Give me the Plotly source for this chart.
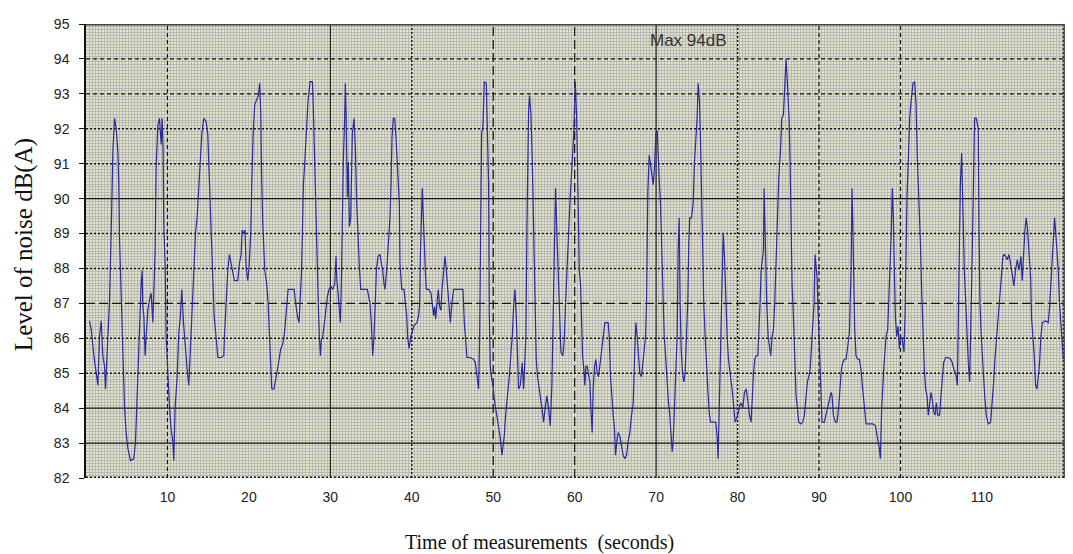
import plotly.graph_objects as go

# ---------------- data: (time in s, level in dB(A)) ----------------
SEG_00_20 = [(0.43,86.5),(0.64,86.25),(0.97,85.5),(1.25,85.0),(1.46,84.65),(1.66,86.05),(1.87,86.5),(2.07,85.5),(2.27,85.2),(2.40,84.55),(2.60,85.5),(2.76,86.1),(2.89,87.1),(3.09,89.0),(3.30,91.35),(3.50,92.3),(3.71,92.0),(3.91,91.35),(4.03,90.4),(4.11,88.9),(4.32,87.2),(4.52,85.7),(4.73,84.05),(4.93,83.3),(5.14,82.85),(5.46,82.5),(5.87,82.55),(6.08,83.05),(6.24,84.15),(6.45,85.2),(6.57,86.35),(6.77,87.55),(6.90,87.95),(6.98,86.9),(7.10,86.65),(7.26,85.5),(7.39,86.05),(7.59,86.8),(7.80,87.1),(8.00,87.3),(8.20,86.45),(8.33,87.2),(8.49,88.5),(8.61,90.9),(8.82,92.1),(9.02,92.3),(9.23,91.55),(9.35,92.3),(9.47,91.35),(9.55,89.3),(9.72,88.05),(9.84,86.05),(9.96,85.5),(10.05,84.75),(10.25,84.05),(10.45,83.4),(10.66,83.05),(10.78,82.5),(10.94,84.0),(11.19,84.9),(11.39,86.15),(11.60,86.65),(11.76,87.4),(11.97,86.45),(12.17,85.7),(12.42,85.1),(12.62,84.65),(12.83,85.7),(13.03,86.65),(13.23,87.95),(13.44,89.0),(13.64,89.45),(13.85,90.4),(14.05,91.1),(14.22,91.85),(14.46,92.3),(14.75,92.2),(14.95,91.85),(15.08,90.9),(15.28,89.95),(15.40,88.7),(15.57,87.65),(15.73,86.65),(15.98,86.0),(16.18,85.45),(16.59,85.45),(16.92,85.5),(17.00,86.05),(17.20,87.0),(17.41,87.95),(17.61,88.4),(17.82,88.15),(18.02,87.95),(18.22,87.65),(18.63,87.65),(18.84,88.15),(19.04,88.4),(19.17,89.1),(19.37,89.0),(19.53,89.1),(19.66,88.05),(19.86,87.65)]

SEG_20_40 = [(20.02,88.05),(20.23,89.0),(20.35,90.4),(20.52,91.85),(20.72,92.7),(20.97,92.85),(21.17,92.95),(21.33,93.3),(21.46,92.4),(21.54,90.9),(21.70,89.3),(21.95,87.95),(22.19,87.55),(22.36,87.0),(22.52,86.05),(22.68,85.0),(22.81,84.55),(23.09,84.55),(23.30,84.9),(23.50,85.1),(23.71,85.4),(23.91,85.7),(24.11,85.8),(24.32,86.05),(24.48,86.45),(24.65,87.0),(24.81,87.4),(25.14,87.4),(25.55,87.4),(25.75,87.0),(25.95,86.65),(26.16,86.45),(26.28,87.0),(26.45,87.85),(26.57,89.0),(26.69,90.4),(26.85,91.0),(27.06,91.85),(27.26,92.8),(27.51,93.35),(27.80,93.35),(27.92,92.5),(28.08,90.9),(28.25,89.0),(28.41,87.95),(28.53,86.9),(28.65,86.05),(28.78,85.5),(28.90,85.95),(29.06,86.05),(29.23,86.35),(29.43,86.8),(29.64,87.2),(29.84,87.4),(30.05,87.5),(30.29,87.4),(30.54,87.55),(30.70,88.35),(30.78,87.75),(30.94,87.3),(31.11,86.9),(31.23,86.45),(31.35,87.55),(31.48,89.85),(31.60,91.15),(31.76,92.3),(31.84,93.3),(31.93,92.5),(32.09,90.05),(32.21,91.05),(32.34,89.2),(32.50,89.45),(32.70,91.85),(32.91,92.3),(33.07,91.45),(33.24,89.85),(33.44,88.5),(33.56,88.05),(33.73,87.4),(34.13,87.4),(34.54,87.4),(34.87,87.0),(35.03,86.45),(35.20,85.5),(35.36,86.05),(35.53,87.1),(35.65,87.95),(35.85,88.35),(36.10,88.4),(36.26,88.15),(36.43,87.95),(36.59,87.55),(36.71,87.4),(36.92,87.95),(37.04,88.35),(37.20,89.1),(37.32,89.45),(37.45,90.4),(37.57,91.75),(37.73,92.3),(37.90,92.3),(38.06,91.75),(38.31,90.8),(38.47,89.85),(38.55,88.15),(38.76,87.4),(39.04,87.4),(39.25,87.0),(39.37,86.65),(39.49,86.05),(39.66,85.7),(39.86,86.05)]

SEG_40_60 = [(40.02,86.15),(40.23,86.35),(40.64,86.45),(40.84,86.65),(40.97,87.0),(41.05,88.35),(41.21,89.3),(41.29,90.3),(41.37,89.75),(41.46,89.0),(41.58,88.5),(41.66,87.95),(41.78,87.4),(42.07,87.4),(42.36,87.3),(42.52,86.9),(42.68,86.65),(42.81,86.9),(42.93,86.55),(43.09,87.0),(43.26,87.4),(43.42,86.9),(43.58,86.8),(43.71,87.4),(43.91,87.95),(44.07,88.35),(44.24,87.95),(44.40,87.4),(44.56,86.9),(44.73,86.45),(44.93,87.0),(45.14,87.4),(45.55,87.4),(45.95,87.4),(46.28,87.4),(46.45,86.45),(46.61,85.85),(46.77,85.45),(47.18,85.45),(47.59,85.4),(47.80,85.3),(48.00,84.9),(48.20,84.55),(48.33,86.05),(48.45,89.0),(48.57,91.85),(48.74,92.1),(48.90,93.35),(49.15,93.3),(49.31,92.0),(49.43,90.4),(49.51,86.8),(49.64,85.2),(49.80,84.85),(49.96,84.65),(50.13,84.25),(50.29,84.0),(50.45,83.7),(50.66,83.4),(50.86,83.15),(51.07,82.65),(51.19,82.85),(51.35,83.2),(51.52,83.8),(51.68,84.15),(51.80,84.55),(52.01,85.0),(52.21,85.7),(52.34,86.05),(52.50,86.9),(52.66,87.4),(52.83,86.65),(52.95,85.7),(53.11,84.55),(53.32,84.65),(53.56,85.3),(53.73,84.55),(53.89,85.7),(54.01,86.05),(54.13,89.0),(54.22,91.35),(54.34,92.5),(54.46,92.95),(54.63,92.4),(54.79,91.15),(54.95,89.0),(55.12,86.65),(55.28,85.4),(55.44,84.9),(55.61,84.55),(55.77,84.35),(55.98,84.0),(56.18,83.6),(56.38,84.0),(56.59,84.35),(56.79,84.0),(57.00,83.5),(57.20,84.65),(57.32,86.05),(57.41,87.1),(57.53,88.9),(57.65,90.3),(57.82,89.0),(57.98,87.85),(58.14,86.65),(58.31,85.6),(58.55,85.5),(58.72,85.95),(58.88,87.0),(59.04,87.95),(59.25,89.1),(59.45,90.05),(59.66,90.9),(59.86,91.75),(60.07,93.35)]

SEG_60_80 = [(60.23,92.4),(60.35,90.9),(60.43,89.3),(60.56,87.95),(60.72,87.55),(60.84,86.45),(60.97,85.5),(61.13,85.1),(61.25,84.65),(61.37,85.2),(61.54,85.2),(61.66,85.0),(61.87,84.75),(61.99,84.0),(62.15,83.3),(62.27,84.55),(62.44,85.2),(62.60,85.4),(62.76,85.0),(62.93,84.9),(63.09,85.2),(63.30,85.7),(63.50,86.05),(63.71,86.45),(64.11,86.45),(64.24,86.05),(64.40,84.9),(64.56,84.25),(64.73,83.8),(64.89,83.4),(65.01,82.65),(65.18,83.05),(65.34,83.3),(65.55,83.2),(65.71,82.95),(65.95,82.65),(66.16,82.55),(66.36,82.65),(66.57,83.05),(66.77,83.3),(66.98,83.8),(67.18,84.15),(67.39,85.7),(67.51,86.45),(67.67,86.05),(67.84,85.6),(68.00,85.0),(68.20,84.9),(68.33,85.2),(68.49,85.7),(68.70,86.05),(68.82,87.0),(68.90,89.0),(68.98,90.2),(69.15,91.25),(69.31,91.0),(69.47,90.8),(69.64,90.4),(69.80,90.9),(69.96,91.85),(70.13,91.95),(70.25,91.15),(70.37,90.6),(70.54,89.85),(70.66,88.7),(70.86,87.55),(70.99,86.05),(71.11,85.7),(71.27,85.1),(71.39,84.45),(71.52,84.15),(71.68,83.8),(71.84,83.2),(71.97,82.75),(72.09,83.05),(72.25,84.0),(72.42,84.75),(72.58,86.05),(72.70,88.5),(72.83,89.45),(72.95,87.0),(73.07,85.7),(73.24,85.0),(73.40,84.75),(73.56,85.0),(73.73,86.05),(73.89,87.1),(74.01,88.7),(74.13,89.45),(74.34,89.45),(74.54,89.85),(74.71,91.05),(74.87,91.55),(75.03,92.3),(75.16,93.3),(75.32,92.8),(75.44,91.75),(75.57,90.2),(75.69,88.5),(75.85,87.0),(76.02,86.05),(76.18,85.1),(76.34,84.55),(76.51,83.9),(76.67,83.6),(77.00,83.6),(77.32,83.6),(77.49,83.2),(77.61,82.55),(77.73,83.8),(77.82,84.9),(77.94,86.05),(78.06,87.95),(78.23,89.0),(78.39,88.35),(78.55,87.1),(78.72,86.05),(78.88,85.4),(79.04,85.0),(79.21,84.75),(79.37,84.45),(79.53,84.0),(79.70,83.6)]

SEG_80_100 = [(80.02,83.8),(80.23,84.05),(80.43,84.15),(80.64,84.0),(80.84,84.45),(81.05,84.55),(81.25,84.25),(81.46,83.8),(81.66,83.6),(81.78,84.45),(81.95,85.0),(82.11,85.4),(82.27,85.5),(82.48,85.5),(82.60,86.05),(82.76,87.0),(82.89,87.95),(83.01,88.15),(83.17,88.5),(83.26,90.3),(83.34,89.45),(83.42,88.15),(83.58,87.0),(83.75,86.05),(83.91,85.7),(84.07,85.5),(84.24,86.05),(84.40,86.25),(84.56,87.0),(84.73,88.35),(84.89,89.45),(85.06,90.6),(85.26,91.35),(85.42,92.3),(85.63,92.4),(85.79,93.25),(85.95,94.0),(86.08,93.45),(86.20,92.95),(86.32,92.3),(86.45,91.05),(86.57,89.3),(86.69,87.55),(86.85,86.65),(87.02,85.7),(87.18,84.35),(87.35,84.0),(87.51,83.6),(87.76,83.55),(88.00,83.6),(88.20,83.8),(88.41,84.35),(88.57,84.75),(88.74,84.9),(88.90,85.1),(89.06,85.7),(89.23,86.45),(89.39,87.0),(89.51,88.4),(89.64,87.95),(89.76,87.75),(89.88,86.8),(90.01,85.85),(90.13,85.0),(90.25,84.0),(90.37,83.6),(90.66,83.6),(90.86,83.8),(91.07,84.0),(91.27,84.15),(91.48,84.45),(91.60,84.35),(91.76,83.8),(92.01,83.6),(92.21,83.6),(92.42,84.05),(92.58,84.75),(92.74,85.1),(92.91,85.3),(93.11,85.4),(93.32,85.4),(93.52,85.7),(93.73,86.15),(93.93,87.95),(94.05,90.3),(94.13,89.45),(94.26,87.95),(94.38,86.25),(94.54,85.5),(94.75,85.4),(94.95,85.4),(95.16,85.1),(95.36,84.55),(95.57,84.0),(95.77,83.55),(96.18,83.55),(96.59,83.55),(96.92,83.5),(97.08,83.2),(97.24,83.05),(97.41,82.85),(97.53,82.55),(97.69,84.0),(97.82,84.9),(97.94,85.1),(98.06,85.5),(98.23,86.05),(98.43,86.25),(98.55,87.0),(98.72,87.95),(98.88,89.1),(99.00,90.3),(99.13,89.45),(99.25,87.95),(99.37,86.65),(99.53,86.05),(99.70,86.35),(99.86,85.7)]

SEG_100_120 = [(100.02,86.05),(100.23,85.95),(100.43,85.6),(100.56,86.65),(100.68,88.9),(100.80,90.05),(100.97,91.15),(101.13,92.3),(101.33,92.85),(101.54,93.3),(101.74,93.35),(101.91,92.7),(102.07,91.15),(102.27,90.05),(102.44,88.8),(102.60,87.4),(102.76,86.05),(102.93,85.1),(103.09,84.55),(103.26,84.35),(103.42,83.8),(103.58,84.05),(103.75,84.45),(103.91,84.25),(104.07,83.9),(104.24,83.8),(104.40,84.15),(104.56,83.8),(104.81,83.8),(104.97,84.35),(105.14,85.0),(105.30,85.3),(105.55,85.45),(105.87,85.45),(106.16,85.4),(106.36,85.3),(106.57,85.1),(106.77,85.0),(106.98,84.65),(107.10,87.0),(107.22,89.3),(107.35,90.4),(107.51,91.3),(107.59,90.2),(107.71,88.5),(107.84,87.95),(108.00,87.1),(108.16,86.05),(108.33,85.3),(108.49,84.75),(108.57,86.05),(108.70,87.1),(108.82,88.5),(108.98,91.0),(109.10,92.3),(109.31,92.3),(109.55,92.0),(109.64,89.1),(109.76,87.0),(109.92,86.05),(110.05,85.4),(110.21,84.75),(110.37,84.25),(110.54,83.8),(110.78,83.55),(111.07,83.6),(111.27,84.15),(111.44,84.75),(111.60,85.4),(111.76,85.85),(111.93,86.35),(112.09,87.0),(112.25,87.3),(112.42,87.85),(112.58,88.35),(112.74,88.4),(112.91,88.35),(113.11,88.25),(113.32,88.4),(113.52,88.15),(113.73,87.75),(113.93,87.5),(114.13,87.95),(114.34,88.25),(114.54,87.95),(114.79,88.35),(114.95,87.65),(115.12,88.5),(115.28,89.1),(115.44,89.45),(115.61,89.1),(115.77,88.5),(115.98,87.75),(116.10,86.55),(116.26,86.05),(116.43,85.5),(116.59,84.65),(116.75,84.55),(116.92,84.9),(117.08,85.3),(117.24,86.05),(117.41,86.45),(117.82,86.5),(118.14,86.45),(118.31,86.9),(118.47,87.55),(118.63,88.15),(118.80,89.1),(118.92,89.45),(119.04,89.1),(119.21,88.5),(119.37,87.95),(119.53,87.0),(119.70,86.35),(119.86,85.7),(119.98,85.4)]

SEGMENTS = [SEG_00_20, SEG_20_40, SEG_40_60, SEG_60_80, SEG_80_100, SEG_100_120]

X_TICKS = [10, 20, 30, 40, 50, 60, 70, 80, 90, 100, 110, 120]
Y_TICKS = [82, 83, 84, 85, 86, 87, 88, 89, 90, 91, 92, 93, 94, 95]
Y_TICK_LABELS = ["82", "83", "84", "85", "86", "87", "88", "89", "90", "91", "92", "93", "94", "95"]
ANNOTATION_TEXT = "Max 94dB"
X_TITLE = "Time of measurements  (seconds)"
Y_TITLE = "Level of noise dB(A)"

X_RANGE = [0, 120.2]
Y_RANGE = [82, 95]

# gridline styles (which ticks get a line, and how it is drawn)
X_GRID_STYLE = {10: "dash", 30: "solid", 40: "dot", 50: "longdash", 60: "longdash",
                70: "solid", 80: "dot", 90: "dash", 100: "dash", 120: "dot"}
Y_GRID_STYLE = {94: "dash", 93: "dash", 92: "dot", 91: "dot", 90: "solid", 89: "dot",
                88: "dot", 87: "longdash", 86: "dot", 85: "dot", 84: "solid", 83: "solid"}
DASHES = {"solid": "solid", "dash": "4px,3px", "dot": "2px,2px", "longdash": "9px,4px"}
WIDTHS = {"solid": 1.1, "dash": 1.2, "dot": 1.4, "longdash": 1.2}

times = [p[0] for seg in SEGMENTS for p in seg]
levels = [p[1] for seg in SEGMENTS for p in seg]

fig = go.Figure()

# grid lines (drawn first, underneath the data)
for xv, st in X_GRID_STYLE.items():
    fig.add_trace(go.Scatter(x=[xv, xv], y=Y_RANGE, mode="lines", hoverinfo="skip",
                             line=dict(color="#141414", width=WIDTHS[st], dash=DASHES[st])))
for yv, st in Y_GRID_STYLE.items():
    fig.add_trace(go.Scatter(x=X_RANGE, y=[yv, yv], mode="lines", hoverinfo="skip",
                             line=dict(color="#141414", width=WIDTHS[st], dash=DASHES[st])))
# frame: top, right (solid, grey) and bottom (dotted)
fig.add_trace(go.Scatter(x=X_RANGE, y=[Y_RANGE[1]] * 2, mode="lines", hoverinfo="skip",
                         line=dict(color="#444444", width=3)))
fig.add_trace(go.Scatter(x=[X_RANGE[1]] * 2, y=Y_RANGE, mode="lines", hoverinfo="skip",
                         line=dict(color="#555555", width=3)))
fig.add_trace(go.Scatter(x=X_RANGE, y=[Y_RANGE[0]] * 2, mode="lines", hoverinfo="skip",
                         line=dict(color="#1a1a1a", width=3, dash="2px,2px")))

# the measurement trace
fig.add_trace(go.Scatter(x=times, y=levels, mode="lines",
                         line=dict(color="#2a2a9c", width=1.2), hoverinfo="skip"))

tick_font = dict(family="Liberation Sans, Arial, sans-serif", size=14, color="#222222")

# the page body adds an 8px offset, so the figure is 8px smaller and margins shifted
fig.update_layout(
    width=1065, height=546,
    margin=dict(l=78, r=8, t=12, b=76),
    paper_bgcolor="white",
    plot_bgcolor="#e3e3c9",
    showlegend=False,
    xaxis=dict(range=X_RANGE, tickvals=X_TICKS, showgrid=False, zeroline=False,
               showline=False, ticks="", ticklabelstandoff=9, tickfont=tick_font,
               minor=dict(dtick=0.37, tick0=0, showgrid=True, gridcolor="#b7b7b3", gridwidth=1)),
    yaxis=dict(range=Y_RANGE, tickvals=Y_TICKS, ticktext=Y_TICK_LABELS, showgrid=False,
               zeroline=False, showline=True, linecolor="#111111", linewidth=1.5,
               ticks="outside", ticklen=5, tickcolor="#111111", ticklabelstandoff=7,
               tickfont=tick_font,
               minor=dict(dtick=1/12, tick0=82, showgrid=True, gridcolor="#b7b7b3", gridwidth=1)),
    annotations=[
        dict(text=ANNOTATION_TEXT, xref="paper", yref="paper", x=0.615, y=0.963,
             xanchor="center", yanchor="middle", showarrow=False,
             font=dict(family="Liberation Sans, Arial, sans-serif", size=17, color="#333333")),
        dict(text=X_TITLE, xref="paper", yref="paper", x=0.4637, y=-0.142,
             xanchor="center", yanchor="middle", showarrow=False,
             font=dict(family="Liberation Serif, Times New Roman, serif", size=20, color="#111111")),
        dict(text=Y_TITLE, xref="paper", yref="paper", x=-0.0633, y=0.513, textangle=-90,
             xanchor="center", yanchor="middle", showarrow=False,
             font=dict(family="Liberation Serif, Times New Roman, serif", size=25, color="#111111")),
    ],
)

fig.write_html("out.html")
